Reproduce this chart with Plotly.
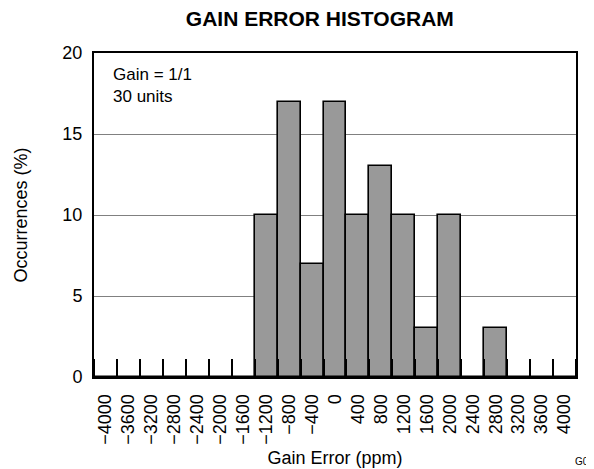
import plotly.graph_objects as go

# Data
bin_centers = [-4000, -3600, -3200, -2800, -2400, -2000, -1600, -1200, -800, -400,
               0, 400, 800, 1200, 1600, 2000, 2400, 2800, 3200, 3600, 4000]
occurrences = [0, 0, 0, 0, 0, 0, 0, 10, 17, 7,
               17, 10, 13, 10, 3, 10, 0, 3, 0, 0, 0]
tick_labels = ["\u22124000", "\u22123600", "\u22123200", "\u22122800", "\u22122400",
               "\u22122000", "\u22121600", "\u22121200", "\u2212800", "\u2212400",
               "0", "400", "800", "1200", "1600", "2000", "2400", "2800", "3200",
               "3600", "4000"]
bin_width = 400
y_ticks = [0, 5, 10, 15, 20]

FONT = "Liberation Sans, Arial, sans-serif"

fig = go.Figure()
fig.add_trace(go.Bar(
    x=bin_centers, y=occurrences, width=bin_width,
    marker=dict(color="#999999", line=dict(color="black", width=1.6)),
    showlegend=False,
))

fig.update_layout(
    width=594, height=469,
    margin=dict(l=81, r=26, t=45, b=97),
    paper_bgcolor="white", plot_bgcolor="white",
    font=dict(family=FONT, color="black", size=18),
    title=dict(text="<b>GAIN ERROR HISTOGRAM</b>", x=0.525, xanchor="center",
               y=0.977, yanchor="middle", font=dict(size=21, family=FONT)),
    bargap=0,
)

fig.update_xaxes(
    range=[bin_centers[0] - bin_width / 2, bin_centers[-1] + bin_width / 2],
    tickmode="array", tickvals=bin_centers, ticktext=tick_labels,
    tickangle=-90, ticks="outside", ticklen=8, tickcolor="rgba(0,0,0,0)",
    tickfont=dict(size=18),
    showgrid=False, zeroline=False,
    showline=True, linecolor="black", linewidth=2, mirror=True,
    minor=dict(tick0=bin_centers[0] + bin_width / 2, dtick=bin_width,
               ticks="inside", ticklen=18, tickwidth=2, tickcolor="black",
               showgrid=False),
    title=dict(text="Gain Error (ppm)", font=dict(size=18), standoff=8),
)

fig.update_yaxes(
    range=[0, 20], tickmode="array", tickvals=y_ticks,
    ticks="outside", ticklen=6, tickcolor="rgba(0,0,0,0)", tickfont=dict(size=18),
    showgrid=True, gridcolor="#808080", gridwidth=1, zeroline=False,
    showline=True, linecolor="black", linewidth=2, mirror=True,
    title=dict(text="Occurrences (%)", font=dict(size=18), standoff=30),
)

fig.add_annotation(
    text="Gain = 1/1<br>30 units", xref="paper", yref="paper",
    x=0.035, y=0.969, xanchor="left", yanchor="top", align="left",
    showarrow=False, font=dict(size=17),
)
fig.add_annotation(
    text="G000", xref="paper", yref="paper",
    x=0.994, y=-0.262, xanchor="left", yanchor="middle",
    showarrow=False, font=dict(size=10),
)

fig.write_html("out.html")
